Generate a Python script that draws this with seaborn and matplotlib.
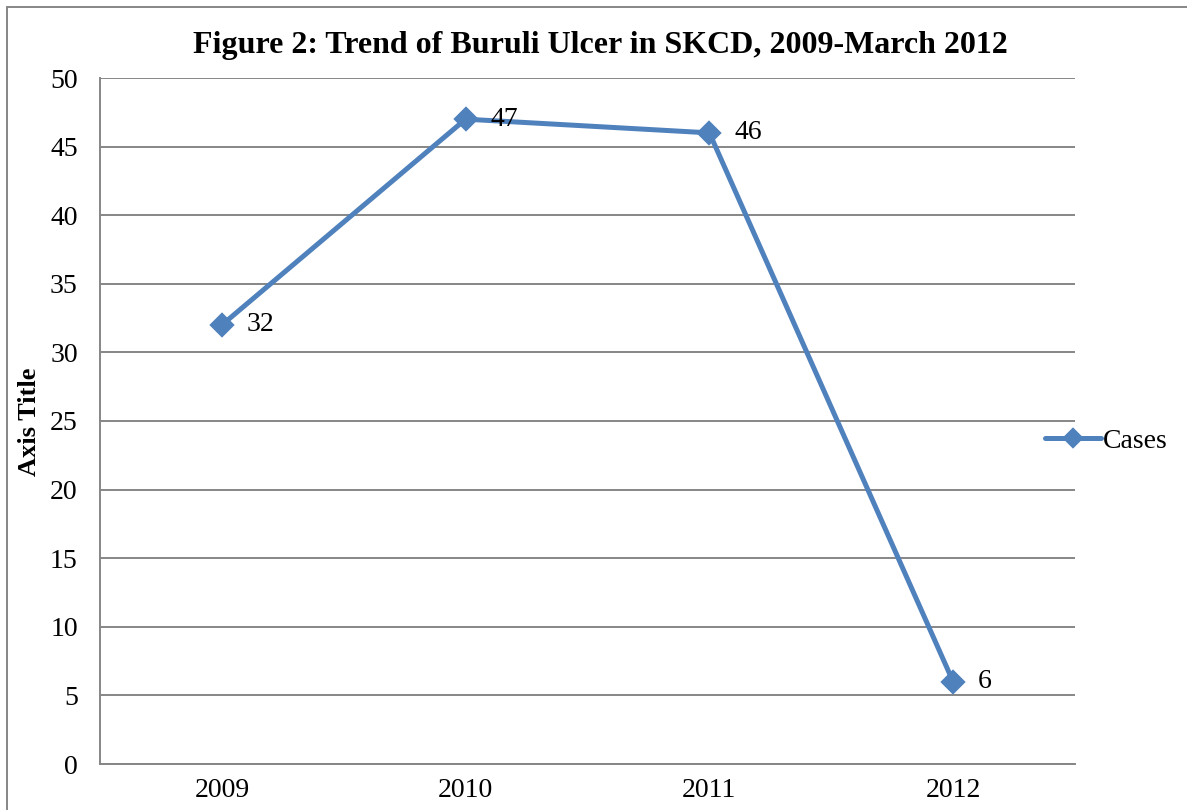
import matplotlib
matplotlib.use("Agg")
import matplotlib.pyplot as plt
import seaborn as sns
import pandas as pd
from matplotlib.patches import Rectangle

years = ["2009", "2010", "2011", "2012"]
cases = [32, 47, 46, 6]
y_ticks = [0, 5, 10, 15, 20, 25, 30, 35, 40, 45, 50]
title = "Figure 2: Trend of Buruli Ulcer in SKCD, 2009-March 2012"
y_label = "Axis Title"
series_name = "Cases"

df = pd.DataFrame({"Year": years, "Cases": cases})

sns.set_theme(style="white")
plt.rcParams["font.family"] = ["Liberation Serif", "DejaVu Serif"]
plt.rcParams["text.color"] = "black"

fig = plt.figure(figsize=(11.87, 8.10), dpi=100)
ax = fig.add_axes([100/1187, 1-764/810, (1075-100)/1187, (764-78)/810])

blue = "#4F81BD"
grid = "#868686"

sns.pointplot(data=df, x="Year", y="Cases", ax=ax, color=blue, markers="D",
              linestyles="-", markersize=10.5, linewidth=3.6, label=series_name,
              errorbar=None)

ax.set_ylim(0, 50)
ax.set_xlim(-0.5, 3.5)
ax.set_yticks(y_ticks)
ax.yaxis.grid(True, color=grid, linewidth=1.4)
ax.xaxis.grid(False)
ax.set_axisbelow(True)
for s in ["top", "right"]:
    ax.spines[s].set_visible(False)
for s in ["left", "bottom"]:
    ax.spines[s].set_color(grid)
    ax.spines[s].set_linewidth(1.4)
ax.tick_params(axis="both", length=0, labelsize=20, colors="black")
ax.tick_params(axis="y", pad=16)
ax.tick_params(axis="x", pad=10)
ax.set_xlabel("")
ax.set_ylabel("")

for i, v in enumerate(cases):
    ax.annotate(str(v), (i, v), xytext=(18, 0), textcoords="offset points",
                ha="left", va="center", fontsize=20, color="black")

fig.text(29/1187, 1-422/810, y_label, rotation=90, ha="center", va="center",
         fontsize=19, fontweight="bold", color="black")
fig.text(600/1187, 1-46/810, title, ha="center", va="center",
         fontsize=23, fontweight="bold", color="black")

leg = ax.legend(loc="center left", bbox_to_anchor=(1045/1187, 1-441/810),
                bbox_transform=fig.transFigure, frameon=False, fontsize=20,
                handlelength=2.0, handletextpad=0.1, borderaxespad=0, borderpad=0,
                markerscale=0.8)
for t in leg.get_texts():
    t.set_color("black")

fig.patches.append(Rectangle((7/1187, -0.1), 1.2, 1-7/810+0.1, transform=fig.transFigure,
                             fill=False, edgecolor=grid, linewidth=1.4))

fig.savefig("out.png", dpi=100)
